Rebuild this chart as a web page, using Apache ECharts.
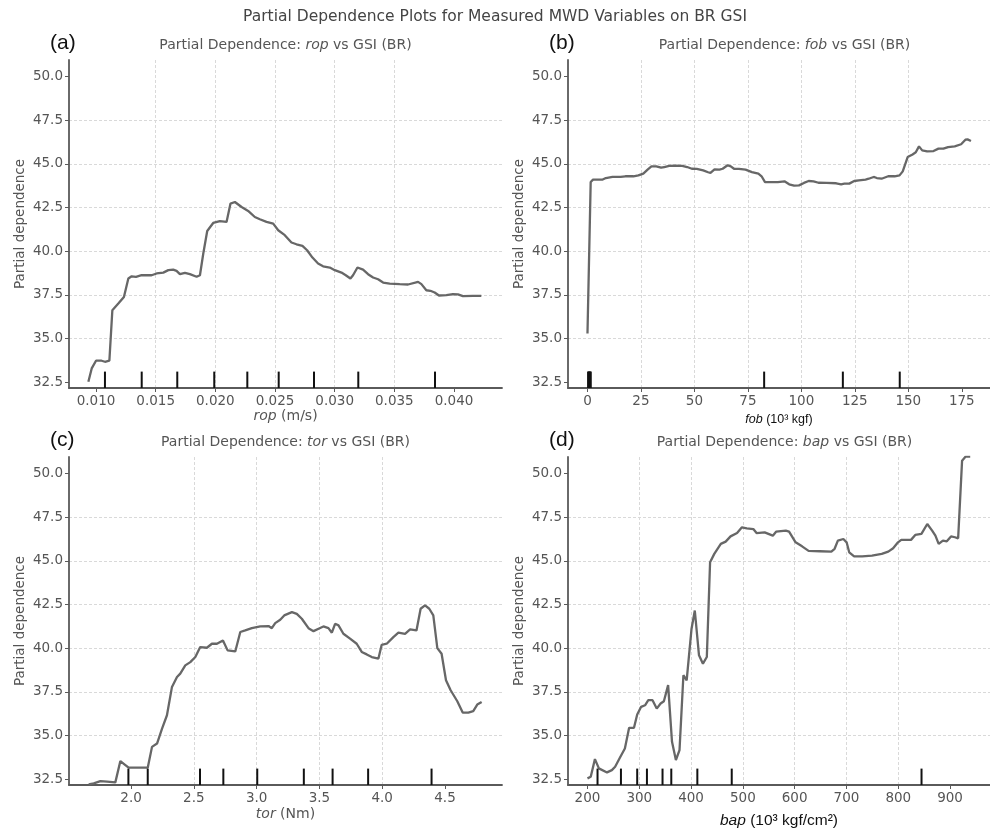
<!DOCTYPE html>
<html>
<head>
<meta charset="utf-8">
<script src="https://cdn.jsdelivr.net/npm/echarts@6/dist/echarts.min.js"></script>
<style>
html,body{margin:0;padding:0;background:#fff;}
#chart{width:990px;height:833px;}
</style>
</head>
<body>
<div id="chart"></div>
<script>
// ---- data ----
const yTicks = [32.5, 35.0, 37.5, 40.0, 42.5, 45.0, 47.5, 50.0];
const ropTicks = [0.010, 0.015, 0.020, 0.025, 0.030, 0.035, 0.040];
const fobTicks = [0, 25, 50, 75, 100, 125, 150, 175];
const torTicks = [2.0, 2.5, 3.0, 3.5, 4.0, 4.5];
const bapTicks = [200, 300, 400, 500, 600, 700, 800, 900];

const ropCurve = [[0.00936,32.54],[0.00964,33.30],[0.0100,33.74],[0.01047,33.74],[0.01075,33.68],[0.01112,33.74],[0.01137,36.63],[0.01187,37.01],[0.01234,37.39],[0.01271,38.44],[0.01299,38.57],[0.01335,38.54],[0.01382,38.63],[0.01430,38.63],[0.01466,38.63],[0.01508,38.73],[0.01564,38.78],[0.01606,38.92],[0.01647,38.95],[0.01675,38.88],[0.01703,38.69],[0.01745,38.76],[0.01787,38.69],[0.01843,38.54],[0.01871,38.63],[0.01899,39.87],[0.01932,41.16],[0.01982,41.62],[0.02038,41.73],[0.02094,41.68],[0.02127,42.73],[0.02164,42.82],[0.02220,42.53],[0.02275,42.31],[0.02331,41.96],[0.02373,41.83],[0.02429,41.68],[0.02485,41.58],[0.02527,41.20],[0.02582,40.92],[0.02638,40.50],[0.02680,40.40],[0.02730,40.31],[0.02769,40.06],[0.02814,39.64],[0.02861,39.30],[0.02903,39.14],[0.02959,39.07],[0.03001,38.92],[0.03057,38.78],[0.03093,38.63],[0.03132,38.44],[0.03154,38.63],[0.03191,39.07],[0.03238,38.95],[0.03280,38.69],[0.03322,38.50],[0.03364,38.40],[0.03406,38.21],[0.03461,38.15],[0.03545,38.12],[0.03615,38.10],[0.03699,38.25],[0.03727,38.12],[0.03768,37.77],[0.03802,37.74],[0.03838,37.64],[0.03874,37.47],[0.03936,37.49],[0.03991,37.55],[0.04033,37.53],[0.04075,37.43],[0.04159,37.45],[0.04229,37.45]];

const fobCurve = [[0,35.30],[1.5,43.96],[2.6,44.10],[4.9,44.10],[7.1,44.10],[8.6,44.19],[11.7,44.25],[15.5,44.25],[17.7,44.29],[21.5,44.29],[23.8,44.34],[26.1,44.44],[28.1,44.67],[29.9,44.86],[32.2,44.86],[34.4,44.78],[35.9,44.82],[38.2,44.88],[41.2,44.90],[44.3,44.88],[46.6,44.82],[48.8,44.72],[51.1,44.71],[54.1,44.63],[56.4,44.52],[57.5,44.48],[59.4,44.69],[61.7,44.67],[63.2,44.72],[65.5,44.92],[67.0,44.86],[68.5,44.72],[70.8,44.71],[73.9,44.67],[76.9,44.53],[79.9,44.44],[81.4,44.29],[83.0,43.96],[85.2,43.96],[89.0,43.96],[92.1,44.00],[94.3,43.83],[96.6,43.75],[98.9,43.77],[101.2,43.91],[103.4,44.02],[105.7,44.00],[108.0,43.92],[111.8,43.91],[116.3,43.89],[118.6,43.83],[120.1,43.87],[122.4,43.87],[124.7,44.02],[126.9,44.06],[130.0,44.10],[131.5,44.15],[133.8,44.25],[135.3,44.19],[137.5,44.15],[140.6,44.29],[143.6,44.29],[145.9,44.34],[147.4,44.57],[149.7,45.39],[152.0,45.54],[153.5,45.66],[155.0,46.00],[156.5,45.77],[158.8,45.71],[161.8,45.73],[164.1,45.87],[166.4,45.87],[168.6,45.96],[171.7,46.00],[174.7,46.12],[176.7,46.38],[177.7,46.40],[179.3,46.31]];

const torCurve = [[1.663,32.21],[1.703,32.27],[1.756,32.40],[1.809,32.37],[1.875,32.33],[1.915,33.55],[1.955,33.32],[1.981,33.17],[2.048,33.17],[2.133,33.17],[2.167,34.36],[2.207,34.55],[2.247,35.41],[2.286,36.17],[2.326,37.79],[2.366,38.36],[2.392,38.55],[2.432,39.02],[2.472,39.21],[2.512,39.50],[2.551,40.07],[2.604,40.03],[2.644,40.26],[2.684,40.26],[2.732,40.45],[2.769,39.88],[2.830,39.82],[2.870,40.93],[2.909,41.02],[2.962,41.15],[3.029,41.25],[3.095,41.27],[3.121,41.15],[3.148,41.44],[3.188,41.63],[3.220,41.88],[3.281,42.07],[3.320,41.97],[3.360,41.69],[3.413,41.15],[3.453,40.98],[3.493,41.12],[3.532,41.25],[3.572,41.15],[3.599,40.89],[3.625,41.40],[3.652,41.31],[3.691,40.83],[3.744,40.55],[3.797,40.26],[3.837,39.79],[3.877,39.65],[3.917,39.50],[3.970,39.41],[3.996,40.20],[4.036,40.26],[4.089,40.64],[4.129,40.89],[4.182,40.83],[4.222,41.08],[4.273,41.02],[4.306,42.26],[4.341,42.45],[4.375,42.26],[4.407,41.88],[4.439,40.01],[4.473,39.69],[4.508,38.17],[4.545,37.60],[4.598,36.97],[4.641,36.32],[4.686,36.32],[4.725,36.40],[4.757,36.78],[4.792,36.93]];

const bapCurve = [[200.0,32.56],[206.3,32.65],[214.4,33.66],[222.0,33.13],[237.7,32.90],[247.1,33.03],[253.4,33.22],[262.8,33.75],[272.2,34.27],[280.4,35.45],[289.8,35.45],[296.0,36.21],[303.6,36.65],[311.1,36.74],[317.4,37.03],[325.6,37.03],[333.7,36.55],[341.2,36.84],[347.5,36.97],[355.7,37.89],[363.2,34.65],[370.7,33.61],[377.7,34.18],[385.2,38.46],[391.5,38.17],[400.9,41.12],[407.2,42.16],[415.3,39.60],[422.9,39.12],[430.4,39.50],[436.7,44.92],[444.8,45.40],[457.4,45.97],[466.8,46.10],[476.2,46.40],[488.8,46.59],[498.2,46.92],[507.6,46.86],[520.2,46.82],[526.4,46.59],[542.1,46.63],[557.8,46.44],[564.1,46.67],[582.9,46.73],[589.2,46.67],[601.8,46.06],[614.3,45.83],[626.9,45.57],[648.8,45.55],[670.8,45.53],[677.1,45.69],[683.4,46.16],[694.0,46.25],[700.3,46.06],[705.3,45.49],[714.8,45.26],[730.4,45.26],[749.3,45.30],[768.1,45.40],[780.7,45.53],[790.1,45.72],[799.5,46.06],[805.8,46.20],[824.6,46.20],[832.8,46.48],[844.7,46.54],[856.0,47.11],[865.4,46.73],[871.7,46.44],[878.0,45.97],[886.2,46.16],[893.7,46.12],[901.8,46.40],[909.4,46.35],[915.6,46.29],[923.2,50.73],[930.1,50.97],[938.9,50.97]];

const ropDeciles = [0.01075, 0.01383, 0.01681, 0.01991, 0.02268, 0.02531, 0.02827, 0.03198, 0.03841];
const fobDeciles = [0.3, 0.5, 0.8, 1.0, 1.3, 1.5, 82.6, 119.4, 146.0];
const torDeciles = [1.979, 2.133, 2.549, 2.735, 3.005, 3.376, 3.605, 3.888, 4.393];
const bapDeciles = [219.4, 264.6, 296.0, 314.8, 344.9, 361.8, 412.1, 478.5, 844.9];

// ---- layout / styling ----
const Y_MIN = 32.18, Y_MAX = 50.94;
const FONT = 'DejaVu Sans';
const TXT = '#555';
const AX = '#5a5a5a';

const panels = [
  {curve: ropCurve, dec: ropDeciles, ticks: ropTicks, min: 0.007737, max: 0.044023, step: 0.005, split: 7, dig: 3,
   left: 69, top: 60, nameGap: 21,
   name: '{i|rop}{n| (m/s)}', nameRich: 'dv'},
  {curve: fobCurve, dec: fobDeciles, ticks: fobTicks, min: -9.11, max: 188.2, step: 25, split: 8, dig: 0,
   left: 568, top: 60, nameGap: 25,
   name: '{i|fob}{n| (10³ kgf)}', nameRich: 'ar1'},
  {curve: torCurve, dec: torDeciles, ticks: torTicks, min: 1.506, max: 4.954, step: 0.5, split: 7, dig: 1,
   left: 69, top: 457, nameGap: 22,
   name: '{i|tor}{n| (Nm)}', nameRich: 'dv'},
  {curve: bapCurve, dec: bapDeciles, ticks: bapTicks, min: 162.4, max: 977.1, step: 100, split: 8, dig: 0,
   left: 568, top: 457, nameGap: 28,
   name: '{i|bap}{n| (10³ kgf/cm²)}', nameRich: 'ar2'}
];

const richSets = {
  dv: {n: {fontFamily: FONT, fontSize: 14, color: TXT, fontWeight: 'normal'}, i: {fontFamily: FONT, fontSize: 14, color: TXT, fontStyle: 'italic', fontWeight: 'normal'}},
  ar1: {n: {fontFamily: 'Liberation Sans', fontSize: 12.5, color: '#111', fontWeight: 'normal'}, i: {fontFamily: 'Liberation Sans', fontSize: 12.5, color: '#111', fontStyle: 'italic', fontWeight: 'normal'}},
  ar2: {n: {fontFamily: 'Liberation Sans', fontSize: 15.5, color: '#111', fontWeight: 'normal'}, i: {fontFamily: 'Liberation Sans', fontSize: 15.5, color: '#111', fontStyle: 'italic', fontWeight: 'normal'}}
};

const subTitles = ['rop', 'fob', 'tor', 'bap'];
const panelTags = ['(a)', '(b)', '(c)', '(d)'];

const grids = [], xAxes = [], yAxes = [], series = [], titles = [];

titles.push({
  text: 'Partial Dependence Plots for Measured MWD Variables on BR GSI',
  left: 495, top: 9, textAlign: 'center', padding: 0,
  textStyle: {fontFamily: FONT, fontSize: 15.5, fontWeight: 'normal', color: '#444'}
});

panels.forEach((p, k) => {
  grids.push({left: p.left, top: p.top, width: 433, height: 328, containLabel: false});
  xAxes.push({
    type: 'value', gridIndex: k, min: p.min, max: p.max,
    splitNumber: p.split, minInterval: p.step, maxInterval: p.step,
    name: p.name, nameLocation: 'middle', nameGap: p.nameGap,
    nameTextStyle: {rich: richSets[p.nameRich]},
    axisLine: {show: true, onZero: false, lineStyle: {color: AX, width: 1.8}},
    axisTick: {show: true, length: 4, lineStyle: {color: AX, width: 1}, customValues: p.ticks},
    axisLabel: {customValues: p.ticks, margin: 6, fontFamily: FONT, fontSize: 13.5, color: TXT,
      formatter: v => Number(v).toFixed(p.dig)},
    splitLine: {show: true, showMinLine: false, showMaxLine: false,
      lineStyle: {color: '#d9d9d9', type: [3, 2], width: 1}}
  });
  yAxes.push({
    type: 'value', gridIndex: k, min: Y_MIN, max: Y_MAX,
    splitNumber: 7, minInterval: 2.5, maxInterval: 2.5,
    name: 'Partial dependence', nameLocation: 'middle', nameGap: 42,
    nameTextStyle: {fontFamily: FONT, fontSize: 13.5, color: TXT},
    axisLine: {show: true, onZero: false, lineStyle: {color: AX, width: 1.8}},
    axisTick: {show: true, length: 4, lineStyle: {color: AX, width: 1}, customValues: yTicks},
    axisLabel: {customValues: yTicks, margin: 6, fontFamily: FONT, fontSize: 13.5, color: TXT,
      formatter: v => Number(v).toFixed(1)},
    splitLine: {show: true, showMinLine: false, showMaxLine: false,
      lineStyle: {color: '#d9d9d9', type: [3, 2], width: 1}}
  });
  series.push({
    type: 'line', xAxisIndex: k, yAxisIndex: k, data: p.curve,
    showSymbol: false, symbol: 'none', smooth: false, clip: true,
    lineStyle: {color: '#676767', width: 2.3}, z: 3, silent: true
  });
  series.push({
    type: 'custom', xAxisIndex: k, yAxisIndex: k,
    data: p.dec.map(v => [v, Y_MIN]), z: 4, silent: true,
    renderItem: (params, api) => {
      const x = api.value(0);
      const a = api.coord([x, Y_MIN]);
      const b = api.coord([x, Y_MIN + 0.05 * (Y_MAX - Y_MIN)]);
      return {type: 'line', shape: {x1: a[0], y1: a[1], x2: b[0], y2: b[1]},
        style: {stroke: '#111', lineWidth: 2}};
    }
  });
  titles.push({
    text: '{n|Partial Dependence: }{i|' + subTitles[k] + '}{n| vs GSI (BR)}',
    left: p.left + 216.5, top: p.top - 22, textAlign: 'center', padding: 0,
    textStyle: {fontWeight: 'normal', rich: {
      n: {fontFamily: FONT, fontSize: 14, color: TXT, fontWeight: 'normal'},
      i: {fontFamily: FONT, fontSize: 14, color: TXT, fontStyle: 'italic', fontWeight: 'normal'}
    }}
  });
  titles.push({
    text: panelTags[k], left: p.left - 19, top: p.top - 27, padding: 0,
    textStyle: {fontFamily: 'Liberation Sans', fontSize: 21, fontWeight: 'normal', color: '#111'}
  });
});

const chart = echarts.init(document.getElementById('chart'), null, {renderer: 'canvas'});
chart.setOption({
  backgroundColor: '#fff',
  animation: false,
  title: titles,
  grid: grids,
  xAxis: xAxes,
  yAxis: yAxes,
  series: series
});
</script>
</body>
</html>
